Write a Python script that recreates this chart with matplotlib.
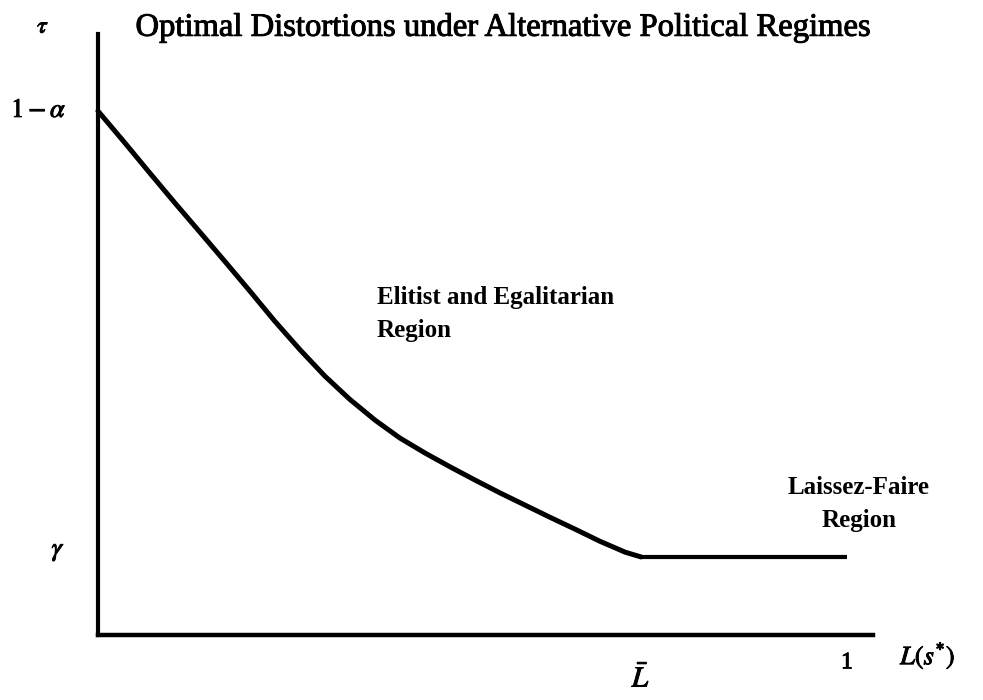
import numpy as np
import matplotlib
matplotlib.use("Agg")
import matplotlib.pyplot as plt
import matplotlib.patheffects as pe

plt.rcParams['font.family'] = ['Liberation Serif', 'DejaVu Serif']
plt.rcParams['mathtext.fontset'] = 'stix'

# values (tau scaled so that 1 - alpha = 1)
one_minus_alpha = 1.0
gamma = 0.149
L_bar = 0.725
L_max = 1.0

curve_L = [0.0, 0.036, 0.069, 0.103, 0.136, 0.170, 0.203, 0.236, 0.270, 0.303,
           0.336, 0.370, 0.403, 0.437, 0.470, 0.503, 0.537, 0.570, 0.603, 0.637,
           0.670, 0.704, 0.725]
curve_tau = [1.0, 0.939, 0.882, 0.824, 0.769, 0.712, 0.656, 0.599, 0.544, 0.494,
             0.450, 0.410, 0.376, 0.347, 0.321, 0.296, 0.271, 0.248, 0.225, 0.202,
             0.179, 0.158, 0.149]

flat_L = [L_bar, L_max]
flat_tau = [gamma, gamma]

fig = plt.figure(figsize=(9.83, 7.0), dpi=100)
ax = fig.add_axes([0, 0, 1, 1])
ax.set_xlim(-0.1308, 1.1816)
ax.set_ylim(-0.124, 1.2118)

ax.plot(curve_L, curve_tau, color='black', lw=3.6, solid_capstyle='round', solid_joinstyle='round')
ax.plot(flat_L, flat_tau, color='black', lw=3.0, solid_capstyle='butt')

# axes as spines through the origin
for s in ['top', 'right']:
    ax.spines[s].set_visible(False)
ax.spines['left'].set_position(('data', 0))
ax.spines['bottom'].set_position(('data', 0))
ax.spines['left'].set_bounds(0, 1.147)
ax.spines['bottom'].set_bounds(0, 1.035)
ax.spines['left'].set_linewidth(3.0)
ax.spines['bottom'].set_linewidth(3.2)
ax.set_xticks([])
ax.set_yticks([])

ink = [pe.withStroke(linewidth=0.7, foreground='black')]

# axis labels and tick labels
ax.text(-0.073, 1.160, r'$\tau$', fontsize=17, ha='center', va='center', path_effects=ink)
ax.text(-0.079, one_minus_alpha, r'$1 - \alpha$', fontsize=19, ha='center', va='center', path_effects=ink)
ax.text(-0.053, gamma + 0.008, r'$\gamma$', fontsize=19, ha='center', va='center', path_effects=ink)
ax.text(L_bar, -0.083, r'$\bar{L}$', fontsize=21, ha='center', va='center', path_effects=ink)
ax.text(L_max, -0.053, '1', fontsize=17, ha='center', va='center', path_effects=ink)
ax.text(1.108, -0.040, r'$L(s^{*})$', fontsize=19, ha='center', va='center', path_effects=ink)

fig.text(0.512, 0.961, 'Optimal Distortions under Alternative Political Regimes',
         fontsize=23.5, ha='center', va='center', path_effects=ink)

ax.text(0.372, 0.645, 'Elitist and Egalitarian', fontsize=18, fontweight='bold', ha='left', va='center')
ax.text(0.372, 0.582, 'Region', fontsize=18, fontweight='bold', ha='left', va='center')
ax.text(1.016, 0.282, 'Laissez-Faire', fontsize=18, fontweight='bold', ha='center', va='center')
ax.text(1.016, 0.219, 'Region', fontsize=18, fontweight='bold', ha='center', va='center')

fig.savefig('out.png', dpi=100)
